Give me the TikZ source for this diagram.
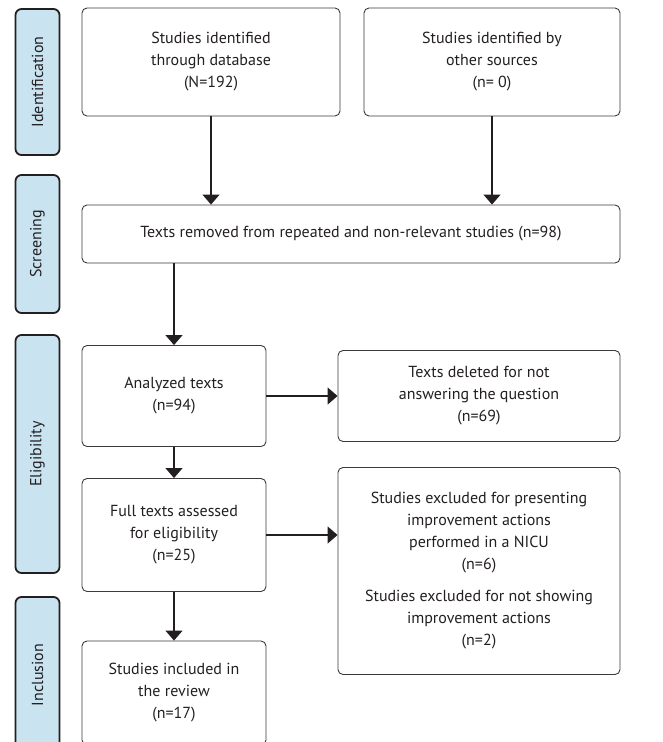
\documentclass[tikz,border=0pt]{standalone}
\usepackage{fontspec}
\setmainfont{PT Sans}
\usetikzlibrary{arrows.meta}
\definecolor{PrPhaseFill}{HTML}{C9E3F0}
\definecolor{PrPhaseStroke}{HTML}{231F20}
\definecolor{PrBoxStroke}{HTML}{3A3A3A}
\definecolor{PrText}{HTML}{231F20}

\begin{document}
\begin{tikzpicture}[x=1pt,y=-1pt,font=\fontsize{16}{22}\selectfont,text=PrText,
  phase/.style={draw=PrPhaseStroke,fill=PrPhaseFill,line width=1.8pt,rounded corners=6pt,minimum width=44pt},
  stagebox/.style={draw=PrBoxStroke,line width=0.9pt,rounded corners=5pt,align=center},
  flow/.style={draw=PrPhaseStroke,line width=1.3pt,-{Triangle[length=10pt,width=17pt]}}]
  \useasboundingbox (0,0) rectangle (662,742);
  % phases on the left
  \node[phase,minimum height=146pt] (pIdent) at (37.5,82) {\rotatebox{90}{Identification}};
  \node[phase,minimum height=138pt] (pScreen) at (37.5,244) {\rotatebox{90}{Screening}};
  \node[phase,minimum height=238pt] (pElig) at (37.5,454) {\rotatebox{90}{Eligibility}};
  \node[phase,minimum height=156pt] (pIncl) at (37.5,675) {\rotatebox{90}{Inclusion}};
  % boxes
  \node[stagebox,minimum width=258pt,minimum height=108pt] (dbase) at (211,62) {Studies identified\\through database\\(N=192)};
  \node[stagebox,minimum width=256pt,minimum height=108pt] (other) at (492,62) {Studies identified by\\other sources\\(n= 0)};
  \node[stagebox,minimum width=538pt,minimum height=58pt] (removed) at (351,234) {Texts removed from repeated and non-relevant studies (n=98)};
  \node[stagebox,minimum width=184pt,minimum height=101pt] (analyzed) at (174,396) {Analyzed texts\\(n=94)};
  \node[stagebox,minimum width=282pt,minimum height=91pt] (deleted) at (479,396) {Texts deleted for not\\answering the question\\(n=69)};
  \node[stagebox,minimum width=184pt,minimum height=113pt] (fulltext) at (174,535) {Full texts assessed\\for eligibility\\(n=25)};
  \node[stagebox,minimum width=282pt,minimum height=207pt] (excluded) at (479,571) {Studies excluded for presenting\\improvement actions\\performed in a NICU\\(n=6)\\[10pt]Studies excluded for not showing\\improvement actions\\(n=2)};
  \node[stagebox,minimum width=184pt,minimum height=104pt] (included) at (174,693) {Studies included in\\the review\\(n=17)};
  % connectors
  \draw[flow] (dbase.south) -- (dbase.south |- removed.north);
  \draw[flow] (other.south) -- (other.south |- removed.north);
  \draw[flow] (removed.south -| analyzed.north) -- (analyzed.north);
  \draw[flow] (analyzed.east) -- (deleted.west);
  \draw[flow] (analyzed.south) -- (fulltext.north);
  \draw[flow] (fulltext.east) -- (fulltext.east -| excluded.west);
  \draw[flow] (fulltext.south) -- (included.north);
\end{tikzpicture}
\end{document}
